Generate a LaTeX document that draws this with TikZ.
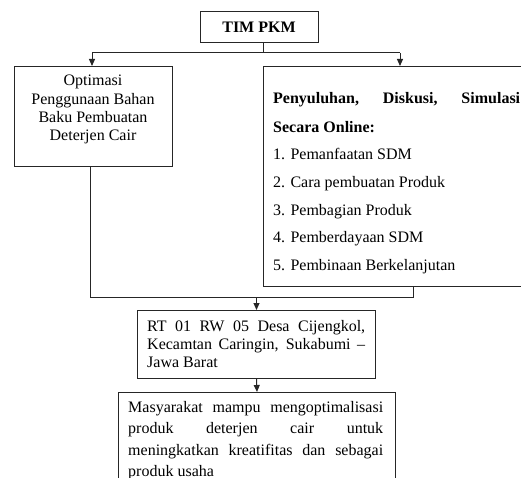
\documentclass[tikz,border=0pt]{standalone}
\usepackage{fontspec}
\setmainfont{Liberation Serif}
\usetikzlibrary{arrows.meta}
\begin{document}
\begin{tikzpicture}[x=1pt,y=-1pt,
  box/.style={draw=black!85, line width=1pt, inner sep=0pt},
  conn/.style={draw=black!85, line width=1pt},
  arr/.style={conn, -{Triangle[length=7pt,width=6pt]}},
  txt/.style={inner sep=0pt, font=\fontsize{16}{18}\selectfont}]
\useasboundingbox (0,0) rectangle (521,478);
\clip (0,0) rectangle (521,478);
% top
\node[box, minimum width=118pt, minimum height=31pt, font=\bfseries\fontsize{16}{18}\selectfont] (tim) at (259,27.5) {TIM PKM};
% left box
\node[box, minimum width=158pt, minimum height=100pt, anchor=north west] (left) at (14,66) {};
\node[txt, anchor=base] (l1) at (93,86) {Optimasi};
\node[txt, anchor=base] (l2) at (93,104.3) {Penggunaan Bahan};
\node[txt, anchor=base] (l3) at (93,122.6) {Baku Pembuatan};
\node[txt, anchor=base] (l4) at (93,141) {Deterjen Cair};
% right box
\node[box, minimum width=300pt, minimum height=220pt, anchor=north west] (right) at (263,66) {};
\node[txt, anchor=base west] (h1) at (273,104) {\makebox[247pt][s]{\bfseries Penyuluhan, Diskusi, Simulasi}};
\node[txt, anchor=base west] (h2) at (273,133) {\bfseries Secara Online:};
\node[txt, anchor=base west] (i1) at (273,160) {1. Pemanfaatan SDM};
\node[txt, anchor=base west] (i2) at (273,187.5) {2. Cara pembuatan Produk};
\node[txt, anchor=base west] (i3) at (273,215) {3. Pembagian Produk};
\node[txt, anchor=base west] (i4) at (273,242.5) {4. Pemberdayaan SDM};
\node[txt, anchor=base west] (i5) at (273,270) {5. Pembinaan Berkelanjutan};
% RT box
\node[box, minimum width=238pt, minimum height=68pt, anchor=north west] (rt) at (137,310) {};
\node[txt, anchor=base west] (r1) at (147,331) {\makebox[218pt][s]{RT 01 RW 05 Desa Cijengkol,}};
\node[txt, anchor=base west] (r2) at (147,349) {\makebox[218pt][s]{Kecamtan Caringin, Sukabumi –}};
\node[txt, anchor=base west] (r3) at (147,367) {Jawa Barat};
% result box
\node[box, minimum width=277pt, minimum height=100pt, anchor=north west] (res) at (118,392) {};
\node[txt, anchor=base west] (s1) at (128,412) {\makebox[255pt][s]{Masyarakat mampu mengoptimalisasi}};
\node[txt, anchor=base west] (s2) at (128,433.5) {\makebox[255pt][s]{produk deterjen cair untuk}};
\node[txt, anchor=base west] (s3) at (128,455) {\makebox[255pt][s]{meningkatkan kreatifitas dan sebagai}};
\node[txt, anchor=base west] (s4) at (128,476) {produk usaha};
% connectors
\coordinate (jl) at (92,53);
\coordinate (jr) at (400,53);
\draw[conn] ([xshift=4pt]tim.south) -- ([xshift=4pt]tim.south |- jl);
\draw[conn] (jl) -- (jr);
\draw[arr] (jl) -- (jl |- left.north);
\draw[arr] (jr) -- (jr |- right.north);
\coordinate (bl) at (90,297);
\coordinate (br) at (413,297);
\draw[conn] (bl |- left.south) -- (bl) -- (br) -- (br |- right.south);
\draw[arr] (rt.north |- bl) -- (rt.north);
\draw[arr] (rt.south) -- (res.north);
\end{tikzpicture}
\end{document}
